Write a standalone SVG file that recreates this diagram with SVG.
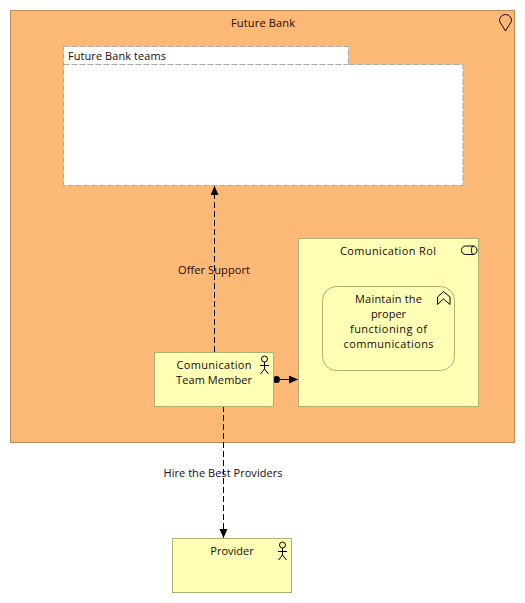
<svg xmlns="http://www.w3.org/2000/svg" width="525" height="603" viewBox="0 0 525 603">
<style>
text{font-family:"Open Sans","Noto Sans","Liberation Sans",sans-serif;font-size:11px;fill:#1a0a0a;text-anchor:middle}
.el{fill:#ffffb5;stroke:#b0b070;stroke-width:1}
.ic{fill:none;stroke:#000;stroke-width:1}
.dash{fill:none;stroke:#000;stroke-width:1;stroke-dasharray:6 3}
</style>
<defs>
<marker id="tri" markerUnits="userSpaceOnUse" markerWidth="10" markerHeight="10" refX="9" refY="4" orient="auto"><path d="M0 0L9 4L0 8Z" fill="#000"/></marker>
</defs>
<g id="future-bank">
<rect x="10.500" y="10.500" width="504" height="432" fill="#fcb875" stroke="#b98a55"/>
<text x="263" y="27" textLength="64">Future Bank</text>
<path class="ic" d="M505.500 31C502 25 499.500 22 499.500 20.500A6 6 0 0 1 511.500 20.500C511.500 22 509 25 505.500 31Z"/>
</g>
<g id="future-bank-teams">
<path d="M63.500 46.500H348.500V64.500H463V185.500H63.500Z" fill="#fff" stroke="#aaa" stroke-dasharray="6 2"/>
<path d="M63.500 64.500H348.500" fill="none" stroke="#aaa" stroke-dasharray="6 2"/>
<text x="68" y="60" style="text-anchor:start" textLength="98">Future Bank teams</text>
</g>
<g id="connectors">
<path class="dash" d="M214.500 352V186" marker-end="url(#tri)"/>
<path class="dash" d="M223.500 406V538" marker-end="url(#tri)"/>
<path d="M277 379.500H298" fill="none" stroke="#000" stroke-width="1" marker-end="url(#tri)"/>
<circle cx="276.500" cy="379.500" r="3.500" fill="#000"/>
</g>
<g id="offer-support-label"><text x="214" y="274" textLength="72">Offer Support</text></g>
<g id="hire-label"><text x="223" y="477" textLength="119">Hire the Best Providers</text></g>
<g id="comunication-rol">
<rect class="el" x="298.500" y="238.500" width="180" height="168"/>
<text x="388" y="255" textLength="96">Comunication Rol</text>
<rect class="ic" x="461.500" y="246" width="15.500" height="8.500" rx="4.200"/>
<path class="ic" d="M474 246A2.500 4.200 0 0 0 474 254.500"/>
</g>
<g id="maintain">
<rect x="322.500" y="286.500" width="132" height="84" rx="14" fill="#ffffb5" stroke="#b0b070"/>
<text x="388.500" y="303" textLength="67">Maintain the</text>
<text x="388.500" y="318">proper</text>
<text x="388.500" y="333" textLength="77">functioning of</text>
<text x="388.500" y="348" textLength="90">communications</text>
<path class="ic" d="M437.500 304.500V297L443.500 291.500L450 297V304.500L443.500 299Z"/>
</g>
<g id="comunication-team-member">
<rect class="el" x="154.500" y="352.500" width="119" height="54"/>
<text x="214" y="369" textLength="75">Comunication</text>
<text x="214" y="384" textLength="76">Team Member</text>
<circle class="ic" cx="264.500" cy="359" r="3"/>
<path class="ic" d="M264.500 362V369M260 365.500H269M260.500 374L264.500 369L268.500 374"/>
</g>
<g id="provider">
<rect class="el" x="172.500" y="538.500" width="119" height="54"/>
<text x="232" y="555">Provider</text>
<circle class="ic" cx="282.500" cy="545" r="3"/>
<path class="ic" d="M282.500 548V555M278 551.500H287M278.500 560L282.500 555L286.500 560"/>
</g>
</svg>
